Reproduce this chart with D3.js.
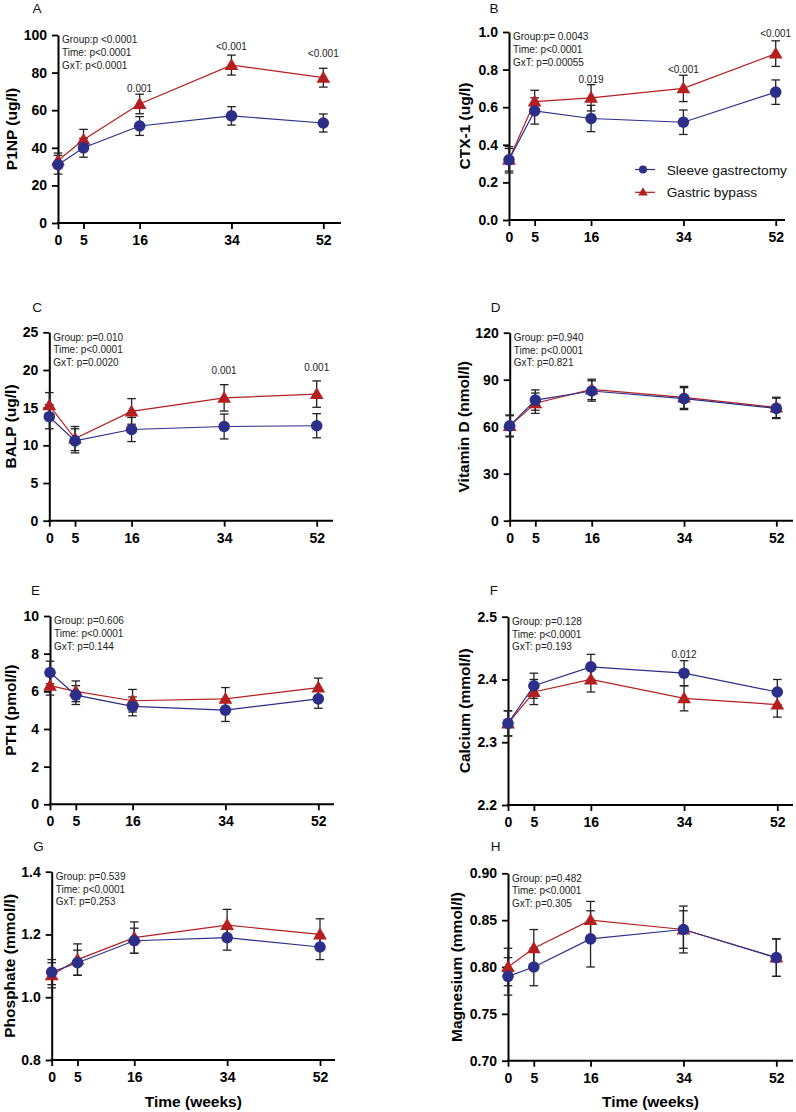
<!DOCTYPE html>
<html><head><meta charset="utf-8">
<script src="https://cdn.jsdelivr.net/npm/d3@7"></script>
<style>
body{margin:0;background:#fff}
svg{display:block}
text{font-family:"Liberation Sans",Arial,Helvetica,sans-serif}
</style>
</head><body>
<svg id="chart" width="796" height="1112"></svg>
<script>
// ---------- data ----------
const weeks = [0, 5, 16, 34, 52];
const groupNames = ["Sleeve gastrectomy", "Gastric bypass"];

// A  P1NP (ug/l)
const p1npSleeve = [31, 40, 51.6, 57, 53.2];
const p1npSleeveSem = [5, 5, 5, 4.9, 4.8];
const p1npBypass = [33.2, 44.3, 63.3, 84, 77.3];
const p1npBypassSem = [4, 5.5, 5.2, 5.3, 5];
const p1npTicks = [0, 20, 40, 60, 80, 100];
const p1npStats = ["Group:p <0.0001", "Time: p<0.0001", "GxT: p<0.0001"];
const p1npSigWeeks = [16, 34, 52];
const p1npSigText = ["0.001", "<0.001", "<0.001"];
const p1npSigLevel = [69.5, 91.8, 88.3];

// B  CTX-1 (ug/l)
const ctxSleeve = [0.32, 0.58, 0.54, 0.52, 0.68];
const ctxSleeveSem = [0.07, 0.07, 0.07, 0.065, 0.065];
const ctxBypass = [0.32, 0.63, 0.65, 0.70, 0.885];
const ctxBypassSem = [0.06, 0.06, 0.07, 0.07, 0.068];
const ctxTicks = [0, 0.2, 0.4, 0.6, 0.8, 1.0];
const ctxStats = ["Group:p= 0.0043", "Time: p<0.0001", "GxT: p=0.00055"];
const ctxSigWeeks = [16, 34, 52];
const ctxSigText = ["0.019", "<0.001", "<0.001"];
const ctxSigLevel = [0.729, 0.78, 0.972];

// C  BALP (ug/l)
const balpSleeve = [13.8, 10.6, 12.1, 12.5, 12.6];
const balpSleeveSem = [1.6, 1.6, 1.6, 1.65, 1.6];
const balpBypass = [15.3, 10.9, 14.5, 16.3, 16.8];
const balpBypassSem = [1.7, 1.6, 1.7, 1.75, 1.75];
const balpTicks = [0, 5, 10, 15, 20, 25];
const balpStats = ["Group: p=0.010", "Time: p<0.0001", "GxT: p=0.0020"];
const balpSigWeeks = [34, 52];
const balpSigText = ["0.001", "0.001"];
const balpSigLevel = [19.5, 19.8];

// D  Vitamin D (nmol/l)
const vitdSleeve = [60.5, 77, 82.8, 77.9, 71.7];
const vitdSleeveSem = [6.5, 6.5, 6.5, 7, 6.5];
const vitdBypass = [60.5, 75, 83.8, 78.7, 72.3];
const vitdBypassSem = [7, 6.5, 6.5, 7, 6.5];
const vitdTicks = [0, 30, 60, 90, 120];
const vitdStats = ["Group: p=0.940", "Time: p<0.0001", "GxT: p=0.821"];

// E  PTH (pmol/l)
const pthSleeve = [7.0, 5.8, 5.2, 5.0, 5.6];
const pthSleeveSem = [0.6, 0.5, 0.5, 0.6, 0.5];
const pthBypass = [6.3, 6.0, 5.5, 5.6, 6.2];
const pthBypassSem = [0.5, 0.55, 0.6, 0.6, 0.5];
const pthTicks = [0, 2, 4, 6, 8, 10];
const pthStats = ["Group: p=0.606", "Time: p<0.0001", "GxT: p=0.144"];

// F  Calcium (mmol/l)
const caSleeve = [2.33, 2.39, 2.42, 2.41, 2.38];
const caSleeveSem = [0.02, 0.02, 0.02, 0.02, 0.02];
const caBypass = [2.33, 2.38, 2.40, 2.37, 2.36];
const caBypassSem = [0.02, 0.02, 0.02, 0.02, 0.02];
const caTicks = [2.2, 2.3, 2.4, 2.5];
const caStats = ["Group: p=0.128", "Time: p<0.0001", "GxT: p=0.193"];
const caSigWeeks = [34];
const caSigText = ["0.012"];
const caSigLevel = [2.4335];

// G  Phosphate (mmol/l)
const phSleeve = [1.08, 1.11, 1.18, 1.19, 1.16];
const phSleeveSem = [0.04, 0.04, 0.04, 0.04, 0.04];
const phBypass = [1.07, 1.12, 1.19, 1.23, 1.20];
const phBypassSem = [0.04, 0.05, 0.05, 0.05, 0.05];
const phTicks = [0.8, 1.0, 1.2, 1.4];
const phStats = ["Group: p=0.539", "Time: p<0.0001", "GxT: p=0.253"];

// H  Magnesium (mmol/l)
const mgSleeve = [0.79, 0.80, 0.83, 0.84, 0.81];
const mgSleeveSem = [0.02, 0.02, 0.03, 0.025, 0.02];
const mgBypass = [0.80, 0.82, 0.85, 0.84, 0.81];
const mgBypassSem = [0.02, 0.02, 0.02, 0.02, 0.02];
const mgTicks = [0.70, 0.75, 0.80, 0.85, 0.90];
const mgStats = ["Group: p=0.482", "Time: p<0.0001", "GxT: p=0.305"];

// ---------- panel definitions ----------
const panels = [
  {letter:"A", label:"P1NP (ug/l)", ticks:p1npTicks, fmt:d3.format("d"), s:p1npSleeve, se:p1npSleeveSem, b:p1npBypass, be:p1npBypassSem, stats:p1npStats, sigW:p1npSigWeeks, sigT:p1npSigText, sigL:p1npSigLevel},
  {letter:"B", label:"CTX-1 (ug/l)", ticks:ctxTicks, fmt:d3.format(".1f"), s:ctxSleeve, se:ctxSleeveSem, b:ctxBypass, be:ctxBypassSem, stats:ctxStats, sigW:ctxSigWeeks, sigT:ctxSigText, sigL:ctxSigLevel, legend:true},
  {letter:"C", label:"BALP (ug/l)", ticks:balpTicks, fmt:d3.format("d"), s:balpSleeve, se:balpSleeveSem, b:balpBypass, be:balpBypassSem, stats:balpStats, sigW:balpSigWeeks, sigT:balpSigText, sigL:balpSigLevel},
  {letter:"D", label:"Vitamin D (nmol/l)", ticks:vitdTicks, fmt:d3.format("d"), s:vitdSleeve, se:vitdSleeveSem, b:vitdBypass, be:vitdBypassSem, stats:vitdStats},
  {letter:"E", label:"PTH (pmol/l)", ticks:pthTicks, fmt:d3.format("d"), s:pthSleeve, se:pthSleeveSem, b:pthBypass, be:pthBypassSem, stats:pthStats},
  {letter:"F", label:"Calcium (mmol/l)", ticks:caTicks, fmt:d3.format(".1f"), s:caSleeve, se:caSleeveSem, b:caBypass, be:caBypassSem, stats:caStats, sigW:caSigWeeks, sigT:caSigText, sigL:caSigLevel},
  {letter:"G", label:"Phosphate (mmol/l)", ticks:phTicks, fmt:d3.format(".1f"), s:phSleeve, se:phSleeveSem, b:phBypass, be:phBypassSem, stats:phStats, xTitle:true},
  {letter:"H", label:"Magnesium (mmol/l)", ticks:mgTicks, fmt:d3.format(".2f"), s:mgSleeve, se:mgSleeveSem, b:mgBypass, be:mgBypassSem, stats:mgStats, xTitle:true}
];

// layout (pixel geometry per panel)
const layouts = [
  {ax:58,    top:35,    bottom:223,    x52:323.3, xEnd:341, lx:32.5, ly:12.5,  labX:11.7},
  {ax:509,   top:32,    bottom:220,    x52:775.7, xEnd:785, lx:489.5, ly:12.5, labX:464.7},
  {ax:49.3,  top:332.3, bottom:520.7,  x52:316.7, xEnd:333, lx:32.3, ly:312,   labX:10},
  {ax:509.7, top:332.7, bottom:520.7,  x52:776.3, xEnd:793, lx:490.7, ly:312,  labX:463},
  {ax:50,    top:616,   bottom:804.3,  x52:318.3, xEnd:334, lx:31,   ly:594.5, labX:10},
  {ax:508,   top:616.7, bottom:805,    x52:777.3, xEnd:793, lx:489.7, ly:595,  labX:464.7},
  {ax:51.7,  top:871.7, bottom:1060,   x52:320,   xEnd:335, lx:33.3, ly:850.7, labX:9.3},
  {ax:508,   top:873.3, bottom:1060.7, x52:776.3, xEnd:793, lx:490.7, ly:850.7, labX:456.3}
];

const BLUE = "#2b2f88";
const RED = "#b51f1f";
const ERR = "#222";

const svg = d3.select("#chart");
const triangle = d3.symbol().type(d3.symbolTriangle);

panels.forEach((p, i) => {
  const L = layouts[i];
  const dom = [p.ticks[0], p.ticks[p.ticks.length - 1]];
  const x = d3.scaleLinear().domain([0, 52]).range([L.ax, L.x52]);
  const y = d3.scaleLinear().domain(dom).range([L.bottom, L.top]);
  const g = svg.append("g");

  // panel letter
  g.append("text").attr("x", L.lx).attr("y", L.ly)
    .attr("font-size", 13.5).attr("fill", "#111").text(p.letter);

  // y axis
  const ya = g.append("g").attr("transform", `translate(${L.ax},0)`)
    .call(d3.axisLeft(y).tickValues(p.ticks).tickFormat(p.fmt).tickSize(6).tickSizeOuter(0).tickPadding(5));
  // x axis
  const xa = g.append("g").attr("transform", `translate(0,${L.bottom})`)
    .call(d3.axisBottom(x).tickValues(weeks).tickFormat(d3.format("d")).tickSize(6).tickSizeOuter(0).tickPadding(6));
  xa.select(".domain").remove();
  xa.append("line").attr("x1", L.ax - 1).attr("x2", L.xEnd).attr("y1", 0).attr("y2", 0)
    .attr("stroke", "#000").attr("stroke-width", 2);
  [ya, xa].forEach(a => {
    a.selectAll(".domain").attr("stroke", "#000").attr("stroke-width", 2);
    a.selectAll(".tick line").attr("stroke", "#000").attr("stroke-width", 1.8);
    a.selectAll(".tick text").attr("fill", "#000").attr("font-size", 14)
      .attr("font-weight", "bold").attr("font-family", '"Liberation Sans",Arial,sans-serif');
  });

  // y label
  const midY = (L.top + L.bottom) / 2;
  g.append("text").attr("transform", `translate(${L.labX + 5.6},${midY}) rotate(-90)`)
    .attr("text-anchor", "middle").attr("font-size", 15.5).attr("font-weight", "bold")
    .attr("fill", "#000").text(p.label);

  // x title
  if (p.xTitle) {
    g.append("text").attr("x", (L.ax + L.xEnd) / 2).attr("y", 1107)
      .attr("text-anchor", "middle").attr("font-size", 15.5).attr("font-weight", "bold")
      .attr("fill", "#000").text("Time (weeks)");
  }

  // stats annotation
  g.append("g").selectAll("text").data(p.stats).join("text")
    .attr("x", L.ax + 4).attr("y", (d, k) => L.top + 8.3 + k * 12.7)
    .attr("font-size", 10).attr("fill", "#222").text(d => d);

  // series: bypass first, sleeve on top
  const series = [
    {vals:p.b, err:p.be, color:RED, shape:"tri"},
    {vals:p.s, err:p.se, color:BLUE, shape:"circle"}
  ];
  const line = d3.line().x((d, k) => x(weeks[k])).y(d => y(d));

  // error bars
  series.forEach(s => {
    const eg = g.append("g").attr("stroke", ERR).attr("stroke-width", 1.3).attr("fill", "none");
    s.vals.forEach((v, k) => {
      const cx = x(weeks[k]);
      const hi = y(v + s.err[k]), lo = y(v - s.err[k]);
      eg.append("line").attr("x1", cx).attr("x2", cx).attr("y1", hi).attr("y2", lo);
      eg.append("line").attr("x1", cx - 4.3).attr("x2", cx + 4.3).attr("y1", hi).attr("y2", hi);
      eg.append("line").attr("x1", cx - 4.3).attr("x2", cx + 4.3).attr("y1", lo).attr("y2", lo);
    });
  });
  // lines + markers
  series.forEach(s => {
    g.append("path").datum(s.vals).attr("d", line).attr("fill", "none")
      .attr("stroke", s.color).attr("stroke-width", 1.2);
    if (s.shape === "circle") {
      g.append("g").selectAll("circle").data(s.vals).join("circle")
        .attr("cx", (d, k) => x(weeks[k])).attr("cy", d => y(d)).attr("r", 5.8)
        .attr("fill", s.color);
    } else {
      g.append("g").selectAll("path").data(s.vals).join("path")
        .attr("d", triangle.size(82)())
        .attr("transform", (d, k) => `translate(${x(weeks[k])},${y(d) + 1})`)
        .attr("fill", s.color);
    }
  });

  // significance labels
  if (p.sigW) {
    g.append("g").selectAll("text").data(p.sigW).join("text")
      .attr("x", d => x(d)).attr("y", (d, k) => y(p.sigL[k]))
      .attr("text-anchor", "middle").attr("font-size", 10).attr("fill", "#222")
      .text((d, k) => p.sigT[k]);
  }

  // legend
  if (p.legend) {
    const lg = g.append("g");
    const rows = [{name:groupNames[0], color:BLUE, shape:"circle"}, {name:groupNames[1], color:RED, shape:"tri"}];
    rows.forEach((r, k) => {
      const cy = 169.5 + k * 22.8;
      lg.append("line").attr("x1", 635).attr("x2", 655).attr("y1", cy).attr("y2", cy)
        .attr("stroke", r.color).attr("stroke-width", 1.2);
      if (r.shape === "circle") {
        lg.append("circle").attr("cx", 643).attr("cy", cy).attr("r", 4).attr("fill", r.color);
      } else {
        lg.append("path").attr("d", triangle.size(40)()).attr("transform", `translate(643,${cy + 0.5})`).attr("fill", r.color);
      }
      lg.append("text").attr("x", 666.7).attr("y", cy + 5).attr("font-size", 13.7)
        .attr("fill", "#111").text(r.name);
    });
  }
});
</script>
</body></html>
